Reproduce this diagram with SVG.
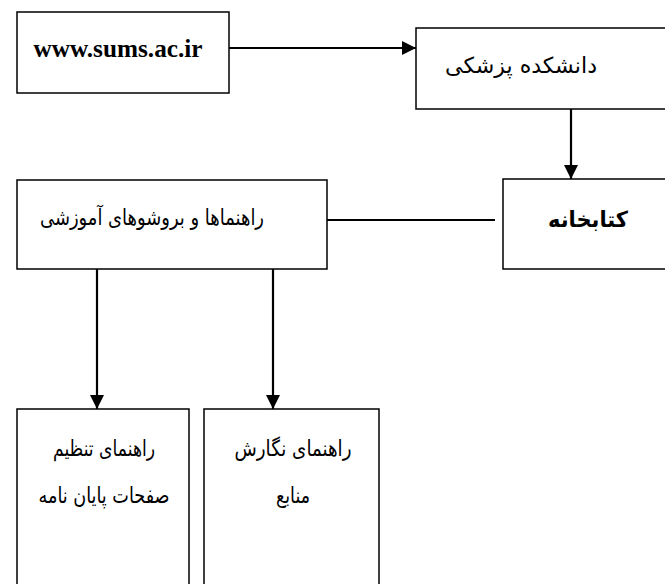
<svg xmlns="http://www.w3.org/2000/svg" width="665" height="584" viewBox="0 0 665 584">
<style>
.box{fill:#fff;stroke:#000;stroke-width:1.5}
.con{fill:none;stroke:#000;stroke-width:2.2}
.ar{font-family:"DejaVu Sans","Noto Sans",sans-serif;font-size:22px;fill:#000}
.en{font-family:"Liberation Serif",serif;font-size:25px;font-weight:bold;fill:#000}
</style>
<defs>
<marker id="arr" viewBox="0 0 10 10" refX="10" refY="5" markerWidth="14" markerHeight="14" markerUnits="userSpaceOnUse" orient="auto">
<path d="M0,0 L10,5 L0,10 z" fill="#000"/>
</marker>
</defs>
<rect width="665" height="584" fill="#fff"/>
<g id="connectors">
<line class="con" x1="229" y1="48" x2="416" y2="48" marker-end="url(#arr)"/>
<line class="con" x1="571" y1="104" x2="571" y2="179" marker-end="url(#arr)"/>
<line class="con" x1="327" y1="220" x2="495" y2="220"/>
<line class="con" x1="97" y1="264" x2="97" y2="409" marker-end="url(#arr)"/>
<line class="con" x1="273" y1="264" x2="273" y2="409" marker-end="url(#arr)"/>
</g>
<g id="node-website">
<rect class="box" x="17" y="12" width="212" height="81"/>
<text class="en" x="118" y="57" text-anchor="middle" textLength="169" lengthAdjust="spacingAndGlyphs">www.sums.ac.ir</text>
</g>
<g id="node-faculty">
<rect class="box" x="416" y="28" width="260" height="81"/>
<text class="ar" x="521" y="73" text-anchor="middle" direction="rtl" textLength="152" lengthAdjust="spacingAndGlyphs">دانشکده پزشکی</text>
</g>
<g id="node-library">
<rect class="box" x="503" y="179" width="173" height="90"/>
<text class="ar" x="588" y="227" text-anchor="middle" direction="rtl" font-weight="bold" textLength="80" lengthAdjust="spacingAndGlyphs">کتابخانه</text>
</g>
<g id="node-guides">
<rect class="box" x="17" y="180" width="310" height="89"/>
<text class="ar" x="152" y="225" text-anchor="middle" direction="rtl" textLength="224" lengthAdjust="spacingAndGlyphs">راهنماها و بروشوهای آموزشی</text>
</g>
<g id="node-thesis">
<rect class="box" x="17" y="409" width="172" height="190"/>
<text class="ar" x="104" y="456" text-anchor="middle" direction="rtl" textLength="102" lengthAdjust="spacingAndGlyphs">راهنمای تنظیم</text>
<text class="ar" x="104" y="503" text-anchor="middle" direction="rtl" textLength="131" lengthAdjust="spacingAndGlyphs">صفحات پایان نامه</text>
</g>
<g id="node-references">
<rect class="box" x="204" y="409" width="175" height="190"/>
<text class="ar" x="293" y="456" text-anchor="middle" direction="rtl" textLength="117" lengthAdjust="spacingAndGlyphs">راهنمای نگارش</text>
<text class="ar" x="293" y="503" text-anchor="middle" direction="rtl" textLength="34" lengthAdjust="spacingAndGlyphs">منابع</text>
</g>
</svg>
